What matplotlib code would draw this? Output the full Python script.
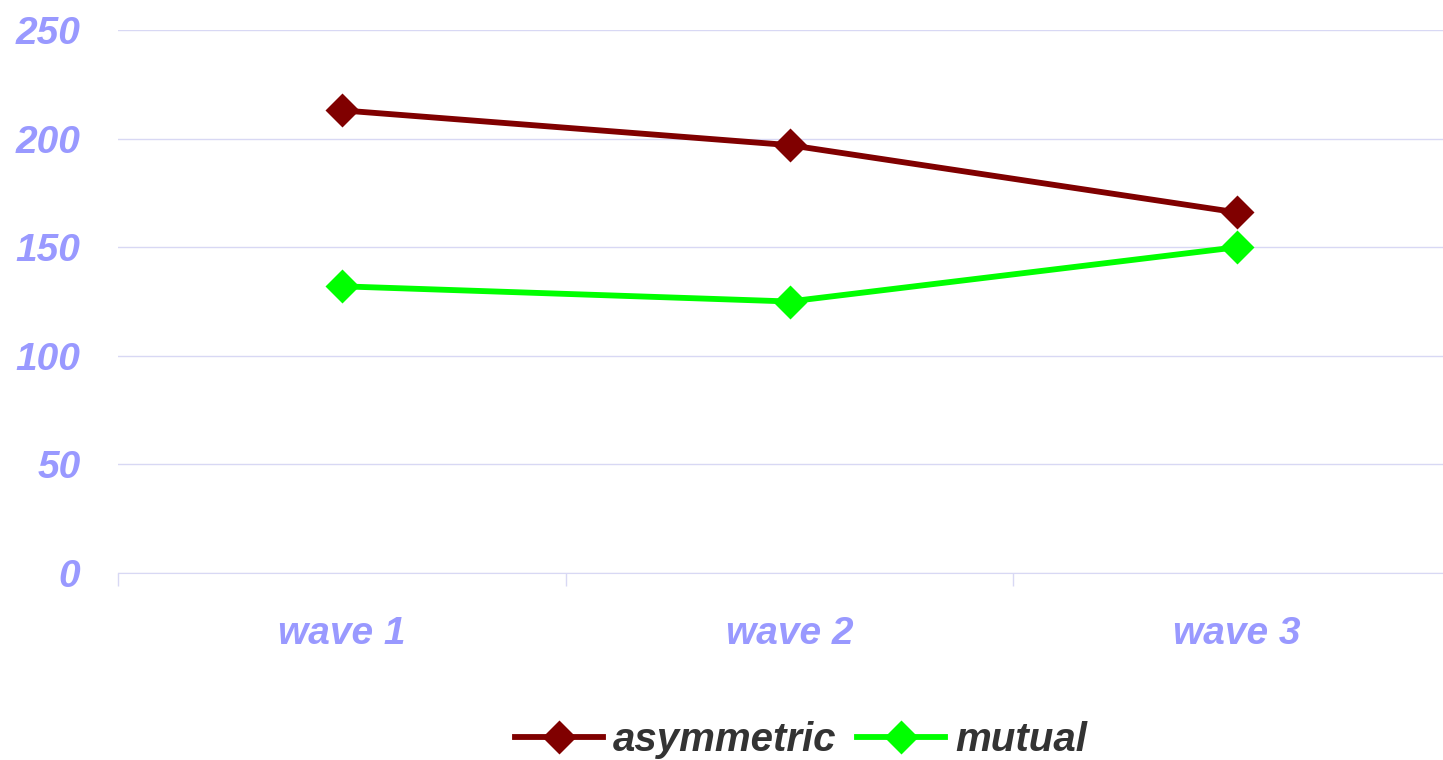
import matplotlib
matplotlib.use("Agg")
import matplotlib.pyplot as plt

categories = ["wave 1", "wave 2", "wave 3"]
asymmetric = [213, 197, 166]
mutual = [132, 125, 150]
y_ticks = [0, 50, 100, 150, 200, 250]

plt.rcParams['font.family'] = ['Liberation Sans', 'DejaVu Sans']

W, H = 1443, 760
fig = plt.figure(figsize=(W / 100, H / 100), dpi=100)
ax = fig.add_axes([118 / W, 1 - 573 / H, (1461 - 118) / W, (573 - 30) / H])

x = list(range(len(categories)))
ax.plot(x, asymmetric, color="#800000", lw=4.2, marker="D", ms=17,
        mec="none", label="asymmetric")
ax.plot(x, mutual, color="#00ff00", lw=4.2, marker="D", ms=17,
        mec="none", label="mutual")

ax.set_xlim(-0.5, 2.5)
ax.set_ylim(0, 250)

grid_col = "#d8d8f4"
ax.set_yticks(y_ticks)
ax.set_yticklabels([str(v) for v in y_ticks])
ax.yaxis.grid(True, color=grid_col, lw=1)
ax.set_axisbelow(True)
ax.tick_params(axis="y", length=0, pad=27, labelsize=28,
               labelcolor="#9999ff")
for t in ax.get_yticklabels():
    t.set_fontweight("bold")
    t.set_fontstyle("italic")

ax.set_xticks([-0.5, 0.5, 1.5, 2.5])
ax.set_xticklabels([])
ax.set_xticks(x, minor=True)
ax.set_xticklabels(categories, minor=True)
ax.tick_params(axis="x", which="major", length=9, color=grid_col, width=1)
ax.tick_params(axis="x", which="minor", length=0, pad=31, labelsize=28,
               labelcolor="#9999ff")
for t in ax.get_xticklabels(minor=True):
    t.set_fontweight("bold")
    t.set_fontstyle("italic")

for s in ["top", "right", "left"]:
    ax.spines[s].set_visible(False)
ax.spines["bottom"].set_color(grid_col)

fig.legend(loc="center", bbox_to_anchor=(801 / W, 1 - 740 / H), ncol=2,
           frameon=False, handlelength=2.2, columnspacing=0.5,
           handletextpad=0.25,
           prop={"weight": "bold", "style": "italic", "size": 29},
           labelcolor="#333333")

fig.savefig("out.png", dpi=100)
